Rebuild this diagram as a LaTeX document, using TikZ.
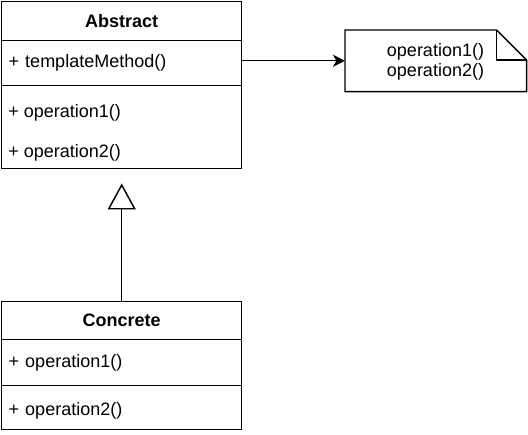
\documentclass[tikz,border=0pt]{standalone}
\usepackage{fontspec}
\setmainfont{Liberation Sans}
\usetikzlibrary{arrows.meta}
\begin{document}
\begin{tikzpicture}[x=0.75pt,y=-0.75pt,
  every node/.style={font=\fontsize{13.5}{16}\selectfont},
  part/.style={draw, line width=1.1pt, minimum width=180pt, anchor=north west, inner xsep=5.25pt, inner ysep=0pt, text width=169.5pt, align=left},
  headpart/.style={part, align=center, font=\fontsize{13.5}{16}\selectfont\bfseries},
  member/.style={anchor=west, inner sep=0pt},
  conn/.style={line width=1.1pt},
  notebox/.style={minimum width=135.75pt, minimum height=45.75pt, anchor=north west, inner sep=0pt}
]
\useasboundingbox (0,0) rectangle (528,435);
% Abstract class
\node[headpart, minimum height=29.25pt] (abshead) at (1,1) {Abstract};
\node[part, minimum height=33.75pt] (abstmpl) at (1,40) {+ templateMethod()};
\node[part, minimum height=62.25pt] (absops) at (1,85) {};
\node[member] (absop1) at (8,113) {+ operation1()};
\node[member] (absop2) at (8,153) {+ operation2()};
% Concrete class
\node[headpart, minimum height=28.5pt] (conhead) at (1,301) {Concrete};
\node[part, minimum height=34.5pt] (conop1) at (1,339) {+ operation1()};
\node[part, minimum height=33pt, text depth=0pt] (conop2) at (1,385) {\raisebox{-2pt}{+ operation2()}};
% Note
\node[notebox] (note) at (345,30) {};
\draw[line width=1.1pt, line join=miter]
  (note.north west) -- ([xshift=-22.5pt]note.north east)
  -- ([yshift=-22.5pt]note.north east) -- (note.south east)
  -- (note.south west) -- cycle;
\draw[line width=1.1pt] ([xshift=-22.5pt]note.north east) |- ([yshift=-22.5pt]note.north east);
\node[align=center, inner sep=0pt, font=\fontsize{13.5}{15}\selectfont] (notetext) at (435.5,62) {operation1()\\operation2()};
% Connectors
\draw[conn, -{Stealth[length=9pt,width=9pt,inset=2.5pt]}] (abstmpl.east |- note.west) -- (note.west);
\draw[conn, shorten >=10.5pt, -{Triangle[open,length=19.5pt,width=21pt,fill=white]}] (conhead.north) -- (absops.south);
\end{tikzpicture}
\end{document}
